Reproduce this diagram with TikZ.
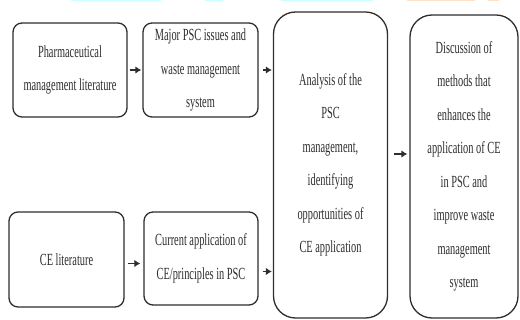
\documentclass[tikz,border=0pt]{standalone}
\usepackage{fontspec}
\setmainfont[FakeStretch=0.61]{Liberation Serif}
\usetikzlibrary{arrows.meta}
\definecolor{ink}{HTML}{2E2E2E}
\definecolor{strip1}{HTML}{CCFFFF}
\definecolor{strip2}{HTML}{FFE2C8}
\begin{document}
\begin{tikzpicture}[x=1pt,y=-1pt,
  box/.style={draw=ink, line width=1.3pt, rounded corners=9pt, inner sep=0pt,
    text=ink, align=center, font=\fontsize{17}{33.5}\selectfont},
  bigbox/.style={box, rounded corners=22pt},
  arr/.style={draw=ink, line width=1.2pt, -{Latex[length=6pt,width=7.5pt]}}]
\useasboundingbox[fill=white] (0,0) rectangle (520,320);
% thin coloured strips at the top edge
\fill[strip1] (71,0) rectangle (161,1.5);
\fill[strip1] (205,0) rectangle (223,1.5);
\fill[strip1] (281,0) rectangle (373,1.5);
\fill[strip2] (407,0) rectangle (475,1.5);
\fill[strip2] (488,0) rectangle (499,1.5);
% boxes
\node[box, minimum width=114pt, minimum height=94pt] (b1) at (70,70)
  {Pharmaceutical\\management literature};
\node[box, minimum width=115pt, minimum height=94pt] (b2) at (200.5,70)
  {Major PSC issues and\\waste management\\system};
\node[bigbox, minimum width=114pt, minimum height=306pt] (b3) at (330.5,165)
  {Analysis of the\\PSC\\management,\\identifying\\opportunities of\\CE application};
\node[bigbox, minimum width=108pt, minimum height=303pt] (b4) at (464,166.5)
  {Discussion of\\methods that\\enhances the\\application of CE\\in PSC and\\improve waste\\management\\system};
\node[box, minimum width=115pt, minimum height=95pt] (b5) at (66.5,259.5)
  {CE literature};
\node[box, minimum width=114pt, minimum height=93pt] (b6) at (201,258.5)
  {Current application of\\CE/principles in PSC};
% connectors
\draw[arr] ([xshift=2pt]b1.east) -- ([xshift=-1pt]b2.west);
\draw[arr] ([xshift=4pt]b2.east) -- ([xshift=-1pt]b2.east -| b3.west);
\draw[arr] ([xshift=3pt,yshift=-4pt]b5.east) -- ([xshift=-3pt,yshift=-4pt]b5.east -| b6.west);
\draw[arr] ([xshift=4pt,yshift=-13pt]b6.east) -- ([xshift=-1pt,yshift=-13pt]b6.east -| b3.west);
\coordinate (m34) at ([yshift=11pt]b3.east);
\draw[arr] ([xshift=6pt]m34) -- ([xshift=-2pt]m34 -| b4.west);
\end{tikzpicture}
\end{document}
